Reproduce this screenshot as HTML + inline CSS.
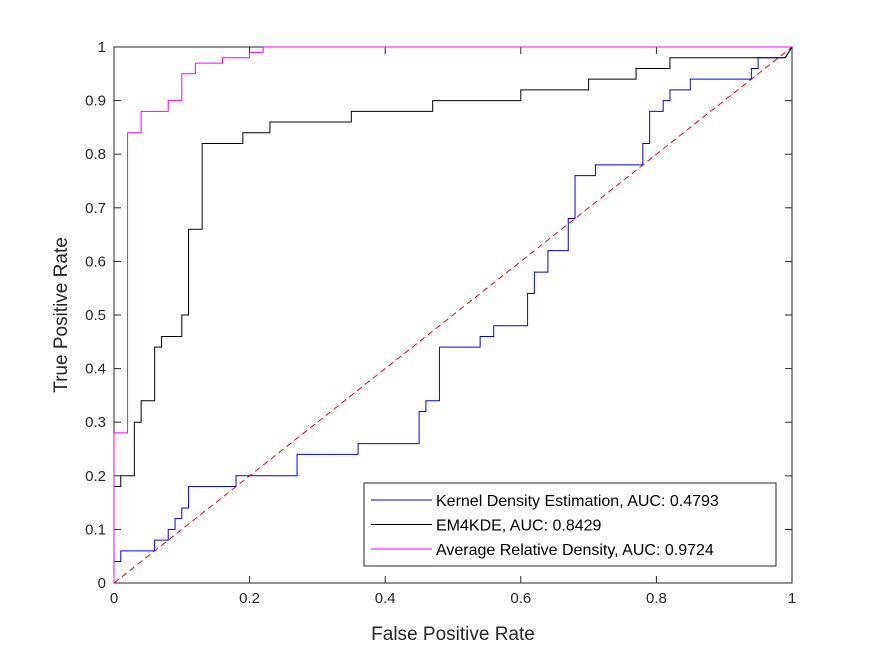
<!DOCTYPE html>
<html><head><meta charset="utf-8"><style>
body{margin:0;background:#fff}
svg{display:block;font-family:"Liberation Sans",Arial,sans-serif}
</style></head><body>
<svg id="chart" width="875" height="656" viewBox="0 0 875 656">
<rect x="0" y="0" width="875" height="656" fill="#fff"/>
<g id="plot"></g>
</svg>
<script>
const xTicks=[0,0.2,0.4,0.6,0.8,1];
const xTickLabels=["0","0.2","0.4","0.6","0.8","1"];
const yTicks=[0,0.1,0.2,0.3,0.4,0.5,0.6,0.7,0.8,0.9,1];
const yTickLabels=["0","0.1","0.2","0.3","0.4","0.5","0.6","0.7","0.8","0.9","1"];
const seriesNames=["Kernel Density Estimation, AUC: 0.4793","EM4KDE, AUC: 0.8429","Average Relative Density, AUC: 0.9724"];
const kdeFpr=[0,0,0.01,0.01,0.06,0.06,0.08,0.08,0.09,0.09,0.10,0.10,0.11,0.11,0.18,0.18,0.27,0.27,0.36,0.36,0.45,0.45,0.46,0.46,0.48,0.48,0.54,0.54,0.56,0.56,0.61,0.61,0.62,0.62,0.64,0.64,0.67,0.67,0.68,0.68,0.71,0.71,0.78,0.78,0.79,0.79,0.81,0.81,0.82,0.82,0.85,0.85,0.94,0.94,0.95,0.95,0.99,1];
const kdeTpr=[0,0.04,0.04,0.06,0.06,0.08,0.08,0.10,0.10,0.12,0.12,0.14,0.14,0.18,0.18,0.20,0.20,0.24,0.24,0.26,0.26,0.32,0.32,0.34,0.34,0.44,0.44,0.46,0.46,0.48,0.48,0.54,0.54,0.58,0.58,0.62,0.62,0.68,0.68,0.76,0.76,0.78,0.78,0.82,0.82,0.88,0.88,0.90,0.90,0.92,0.92,0.94,0.94,0.96,0.96,0.98,0.98,1];
const emFpr=[0,0,0.01,0.01,0.03,0.03,0.04,0.04,0.06,0.06,0.07,0.07,0.10,0.10,0.11,0.11,0.13,0.13,0.19,0.19,0.23,0.23,0.35,0.35,0.47,0.47,0.60,0.60,0.70,0.70,0.77,0.77,0.82,0.82,0.99,1];
const emTpr=[0,0.18,0.18,0.20,0.20,0.30,0.30,0.34,0.34,0.44,0.44,0.46,0.46,0.50,0.50,0.66,0.66,0.82,0.82,0.84,0.84,0.86,0.86,0.88,0.88,0.90,0.90,0.92,0.92,0.94,0.94,0.96,0.96,0.98,0.98,1];
const ardFpr=[0,0,0.02,0.02,0.04,0.04,0.08,0.08,0.10,0.10,0.12,0.12,0.16,0.16,0.20,0.20,0.22,0.22,1];
const ardTpr=[0,0.28,0.28,0.84,0.84,0.88,0.88,0.90,0.90,0.95,0.95,0.97,0.97,0.98,0.98,0.99,0.99,1,1];

const X0=114,X1=792,Y0=583,Y1=47;
const sx=v=>X0+(X1-X0)*v;
const sy=v=>Y0-(Y0-Y1)*v;
const NS="http://www.w3.org/2000/svg";
const g=document.getElementById('plot');
function mk(tag,attrs,parent){const e=document.createElementNS(NS,tag);for(const k in attrs)e.setAttribute(k,attrs[k]);(parent||g).appendChild(e);return e;}

const frame=mk('rect',{x:X0,y:Y1,width:X1-X0,height:Y0-Y1,fill:'#fff',stroke:'#262626','stroke-width':1});



xTicks.forEach((t,i)=>{
  const x=sx(t);
  mk('line',{x1:x,y1:Y0,x2:x,y2:Y0-7,stroke:'#262626'});
  mk('line',{x1:x,y1:Y1,x2:x,y2:Y1+7,stroke:'#262626'});
  const tx=mk('text',{x:x,y:Y0+20,'text-anchor':'middle','font-size':15,fill:'#262626'});
  tx.textContent=xTickLabels[i];
  
  
});
yTicks.forEach((t,i)=>{
  const y=sy(t);
  mk('line',{x1:X0,y1:y,x2:X0+7,y2:y,stroke:'#262626'});
  mk('line',{x1:X1,y1:y,x2:X1-7,y2:y,stroke:'#262626'});
  const tx=mk('text',{x:X0-8,y:y+5,'text-anchor':'end','font-size':15,fill:'#262626'});
  tx.textContent=yTickLabels[i];
  
  
});

function poly(xs,ys,color,name){
  const p=xs.map((x,i)=>sx(x).toFixed(2)+','+sy(ys[i]).toFixed(2)).join(' ');
  const e=mk('polyline',{points:p,fill:'none',stroke:color,'stroke-width':1});
  
  
}
const diag=mk('line',{x1:sx(0),y1:sy(0),x2:sx(1),y2:sy(1),stroke:'#ff0000','stroke-width':1,'stroke-dasharray':'6,4'});


poly(kdeFpr,kdeTpr,'#0000ff','kde-roc-line');
poly(emFpr,emTpr,'#000000','em4kde-roc-line');
poly(ardFpr,ardTpr,'#ff00ff','ard-roc-line');

const xl=mk('text',{x:(X0+X1)/2,y:640,'text-anchor':'middle','font-size':19,fill:'#262626'});
xl.textContent='False Positive Rate';


const yl=mk('text',{x:0,y:0,'text-anchor':'middle','font-size':19,fill:'#262626',transform:`translate(67,${(Y0+Y1)/2}) rotate(-90)`});
yl.textContent='True Positive Rate';



const leg=mk('g',{});


mk('rect',{x:364,y:483,width:412,height:83,fill:'#fff',stroke:'#262626','stroke-width':1},leg);
const legColors=['#0000ff','#000000','#ff00ff'];
seriesNames.forEach((n,i)=>{
  const y=500+i*24.5;
  const e=mk('g',{},leg);
  
  
  mk('line',{x1:371,y1:y,x2:432,y2:y,stroke:legColors[i],'stroke-width':1},e);
  const t=mk('text',{x:436,y:y+6,'font-size':16,fill:'#000'},e);
  t.textContent=n;
});
</script>
</body></html>
